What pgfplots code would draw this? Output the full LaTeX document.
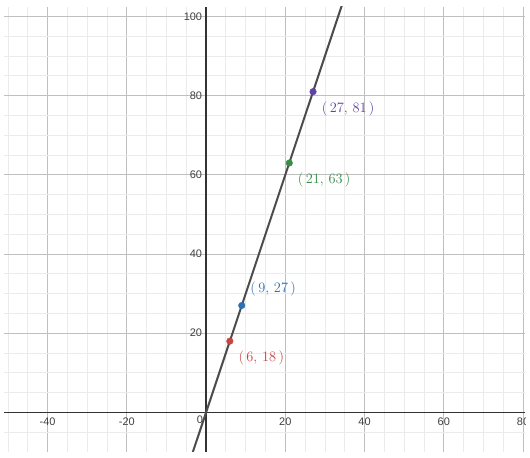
\documentclass[border=0pt]{standalone}
\usepackage{pgfplots}
\pgfplotsset{compat=1.18}
\usepackage{fontspec}
\newfontfamily\tickfont{Liberation Sans}
\definecolor{dred}{HTML}{C74440}
\definecolor{dblue}{HTML}{2D70B3}
\definecolor{dgreen}{HTML}{388C46}
\definecolor{dpurple}{HTML}{6042A6}
\newcommand{\pt}[2]{$(\,#1,\,#2\,)$}
\begin{document}
\begin{tikzpicture}
\useasboundingbox (0,0) rectangle (530bp,458bp);
\begin{scope}
\clip (4bp,6bp) rectangle (525bp,451bp);
\begin{axis}[
  at={(4bp,6bp)}, anchor=south west,
  scale only axis, width=521bp, height=445bp,
  xmin=-51, xmax=80.5, ymin=-10, ymax=102.4,
  axis lines=middle,
  axis line style={-, black!80, line width=1.4bp},
  xtick={-40,-20,20,40,60,80},
  xticklabels={-40,-20,20,40,60,80},
  ytick={20,40,60,80,100},
  yticklabels={20,40,60,80,100},
  minor xtick={-50,-45,...,80},
  minor ytick={-10,-5,...,100},
  grid=both,
  major grid style={black!25, line width=0.8bp},
  minor grid style={black!8, line width=0.8bp},
  major tick length=0pt, minor tick length=0pt,
  xticklabel style={font=\tickfont\fontsize{11}{13}\selectfont, text=black!75, anchor=north, yshift=-1.5bp},
  yticklabel style={font=\tickfont\fontsize{11}{13}\selectfont, text=black!75, anchor=east, xshift=-0.5bp},
  clip=true,
]
\addplot[color=black!70, line width=2bp] coordinates {(-4,-12) (36,108)};
\addplot[only marks, mark=*, mark size=3.3bp, color=dred] coordinates {(6,18)};
\addplot[only marks, mark=*, mark size=3.3bp, color=dblue] coordinates {(9,27)};
\addplot[only marks, mark=*, mark size=3.3bp, color=dgreen] coordinates {(21,63)};
\addplot[only marks, mark=*, mark size=3.3bp, color=dpurple] coordinates {(27,81)};
\node[anchor=west, inner sep=0pt, text=dred, font=\fontsize{15.5}{18}\selectfont, xshift=8.5bp, yshift=-16.5bp] at (axis cs:6,18) {\pt{6}{18}};
\node[anchor=west, inner sep=0pt, text=dblue, font=\fontsize{15.5}{18}\selectfont, xshift=8.5bp, yshift=16.5bp] at (axis cs:9,27) {\pt{9}{27}};
\node[anchor=west, inner sep=0pt, text=dgreen, font=\fontsize{15.5}{18}\selectfont, xshift=8.5bp, yshift=-16.5bp] at (axis cs:21,63) {\pt{21}{63}};
\node[anchor=west, inner sep=0pt, text=dpurple, font=\fontsize{15.5}{18}\selectfont, xshift=8.7bp, yshift=-17.2bp] at (axis cs:27,81) {\pt{27}{81}};
\node[anchor=north east, text=black!75, font=\tickfont\fontsize{11}{13}\selectfont, inner sep=3pt] at (axis cs:0,0) {0};
\end{axis}
\end{scope}
\end{tikzpicture}
\end{document}
